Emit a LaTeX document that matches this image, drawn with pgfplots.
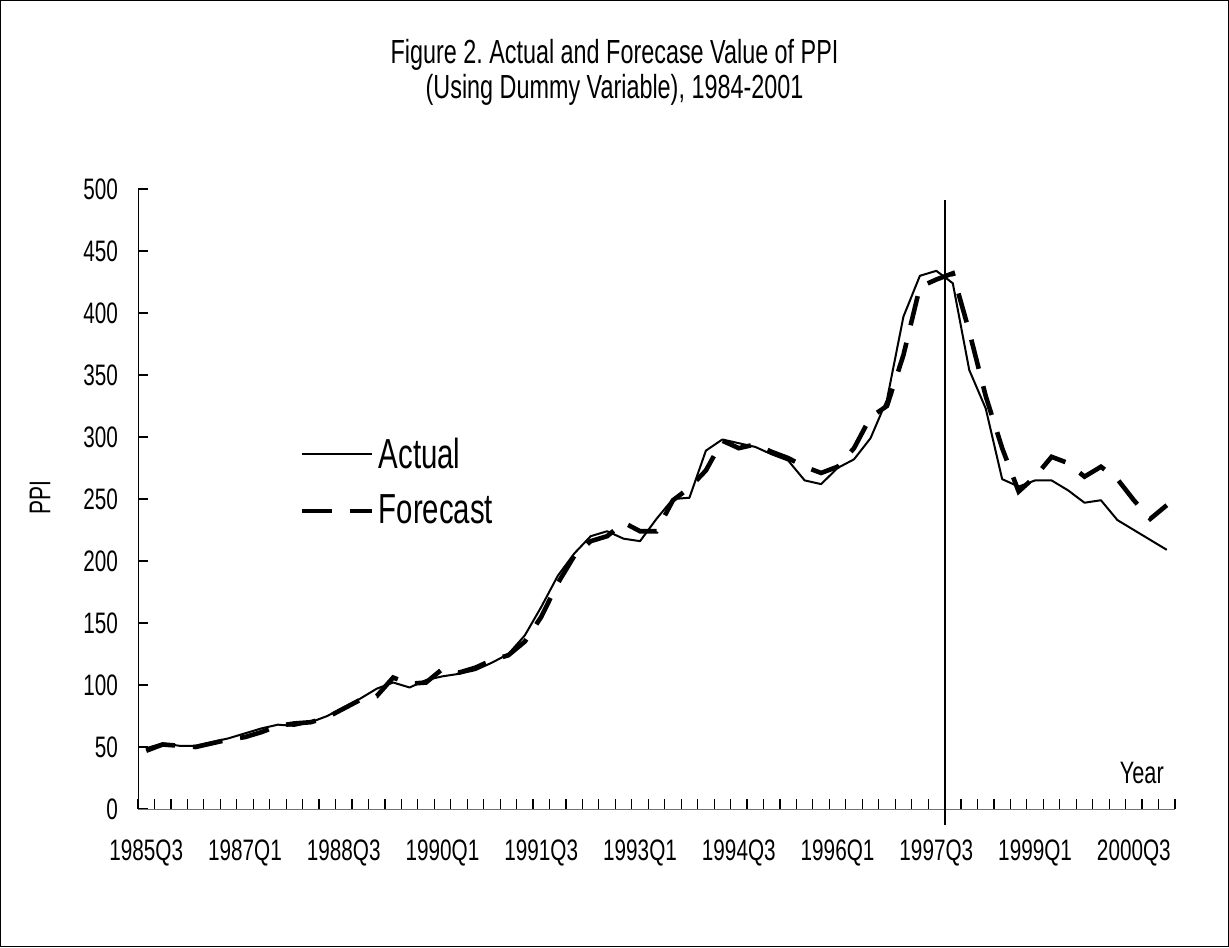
\documentclass[border=0pt]{standalone}
\usepackage{fontspec}
\setmainfont{Liberation Sans}[FakeStretch=0.7]
\usepackage{pgfplots}
\usepackage{pgfplotstable}
\pgfplotsset{compat=1.18}
\frenchspacing
\pgfplotstableread{
x y
0 49
1 53
2 51
3 51
4 54
5 57
6 61
7 65
8 68
9 67
10 70
11 75
12 82
13 89
14 97
15 102
16 98
17 104
18 107
19 109
20 112
21 118
22 125
23 140
24 163
25 188
26 206
27 220
28 224
29 218
30 216
31 234
32 250
33 251
34 289
35 298
36 295
37 292
38 286
39 281
40 265
41 262
42 275
43 282
44 299
45 330
46 397
47 430
48 434
49 424
50 354
51 323
52 266
53 260
54 265
55 265
56 257
57 247
58 249
59 233
60 225
61 217
62 209
}\actual
\pgfplotstableread{
x y
0 47
1 52
2 51
3 50
4 53
5 56
6 58
7 62
8 67
9 69
10 70
11 74
12 81
13 88
14 91
15 106
16 101
17 102
18 113
19 110
20 114
21 120
22 124
23 135
24 155
25 182
26 204
27 216
28 220
29 231
30 224
31 224
32 249
33 259
34 273
35 297
36 291
37 294
38 288
39 283
40 276
41 271
42 276
43 291
44 316
45 325
46 366
47 421
48 427
49 432
50 385
51 333
52 291
53 256
54 268
55 284
56 279
57 268
58 276
59 266
60 249
61 234
62 245
}\forecast
\begin{document}
\begin{tikzpicture}
\draw[line width=0.5pt] (0.25pt,0.25pt) rectangle (614.25pt,473.25pt);
\node[align=center, font=\fontsize{16.7}{17.5}\selectfont] at (307.25pt,437.25pt) {Figure 2. Actual and Forecase Value of PPI\\(Using Dummy Variable), 1984-2001};
\begin{axis}[
  at={(69pt,69pt)}, anchor=south west,
  scale only axis, width=518.5pt, height=310pt,
  xmin=-0.5, xmax=62.5, ymin=0, ymax=500,
  axis lines=left, axis line style={-},
  x axis line style={black!55},
  tick align=inside,
  major tick length=5pt,
  tick style={black, line width=0.6pt},
  xtick={-0.5,0.5,...,62.5}, xticklabels={},
  extra x ticks={0,6,...,60},
  extra x tick labels={1985Q3,1987Q1,1988Q3,1990Q1,1991Q3,1993Q1,1994Q3,1996Q1,1997Q3,1999Q1,2000Q3},
  extra x tick style={major tick length=0pt, tick style={draw=none}},
  ytick={0,50,...,500},
  ticklabel style={font=\fontsize{14.8}{16}\selectfont},
  /pgf/number format/assume math mode=true,
  yticklabel style={xshift=-6.5pt},
  xticklabel style={yshift=-12pt},
  xlabel={Year},
  xlabel style={at={(axis description cs:0.968,0.058)}, anchor=center, font=\fontsize{15.5}{17}\selectfont},
  ylabel={PPI},
  ylabel style={at={(axis description cs:-0.0945,0.503)}, anchor=center, font=\fontsize{15}{17}\selectfont},
  legend style={at={(axis description cs:0.156,0.527)}, anchor=west, draw=none, fill=none,
    font=\fontsize{21}{23}\selectfont, inner sep=0pt, row sep=8pt, nodes={inner sep=2pt}},
  legend cell align=left,
  legend image code/.code={\draw[#1] (0pt,0pt) -- (35pt,0pt);},
  clip=false,
]
\addplot[black, line width=1pt, line join=round] table[x=x,y=y] {\actual};
\addlegendentry{Actual}
\addplot[black, line width=2.3pt, dash pattern=on 15pt off 9pt] table[x=x,y=y] {\forecast};
\addlegendentry{Forecast}
\addplot[black, line width=1pt, forget plot] coordinates {(48.5,-13) (48.5,491)};
\end{axis}
\end{tikzpicture}
\end{document}
